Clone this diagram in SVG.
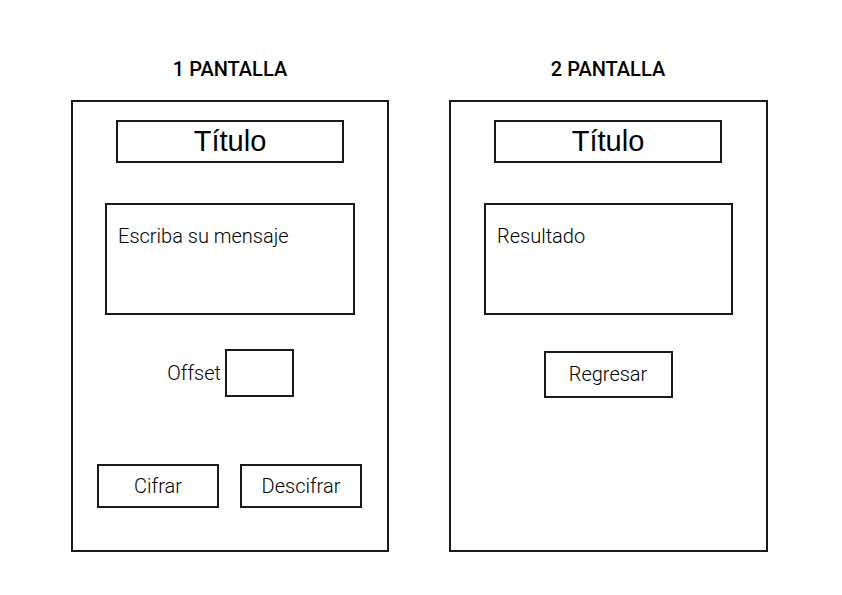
<svg xmlns="http://www.w3.org/2000/svg" width="842" height="595" viewBox="0 0 842 595">
<style>
.box{fill:#fff;stroke:#1a1a1a;stroke-width:2}
.h{font-family:Roboto,"Liberation Sans",sans-serif;font-weight:500;font-size:20px;fill:#000;text-anchor:middle}
.t{font-family:"Liberation Sans",Arial,sans-serif;font-size:29px;fill:#000;text-anchor:middle}
.l{font-family:Roboto,"Liberation Sans",sans-serif;font-weight:300;font-size:20px;fill:#000}
.c{text-anchor:middle}
</style>
<rect width="842" height="595" fill="#fff"/>
<g id="screen1">
<text class="h" x="230" y="76">1 PANTALLA</text>
<rect class="box" x="72" y="101" width="316" height="450"/>
</g>
<g id="title1">
<rect class="box" x="117" y="121" width="226" height="41"/>
<text class="t" x="230" y="151">Título</text>
</g>
<g id="message">
<rect class="box" x="106" y="204" width="248" height="110"/>
<text class="l" x="118" y="243">Escriba su mensaje</text>
</g>
<g id="offset">
<text class="l" x="221" y="380" text-anchor="end">Offset</text>
<rect class="box" x="226" y="350" width="67" height="46"/>
</g>
<g id="cifrar">
<rect class="box" x="98" y="465" width="120" height="42"/>
<text class="l c" x="158" y="493">Cifrar</text>
</g>
<g id="descifrar">
<rect class="box" x="241" y="465" width="120" height="42"/>
<text class="l c" x="301" y="493">Descifrar</text>
</g>
<g id="screen2">
<text class="h" x="608" y="76">2 PANTALLA</text>
<rect class="box" x="450" y="101" width="317" height="450"/>
</g>
<g id="title2">
<rect class="box" x="495" y="121" width="226" height="41"/>
<text class="t" x="608" y="151">Título</text>
</g>
<g id="resultado">
<rect class="box" x="485" y="204" width="247" height="110"/>
<text class="l" x="497" y="243">Resultado</text>
</g>
<g id="regresar">
<rect class="box" x="545" y="352" width="127" height="45"/>
<text class="l c" x="608" y="381">Regresar</text>
</g>
<g id="connectors"></g>
</svg>
